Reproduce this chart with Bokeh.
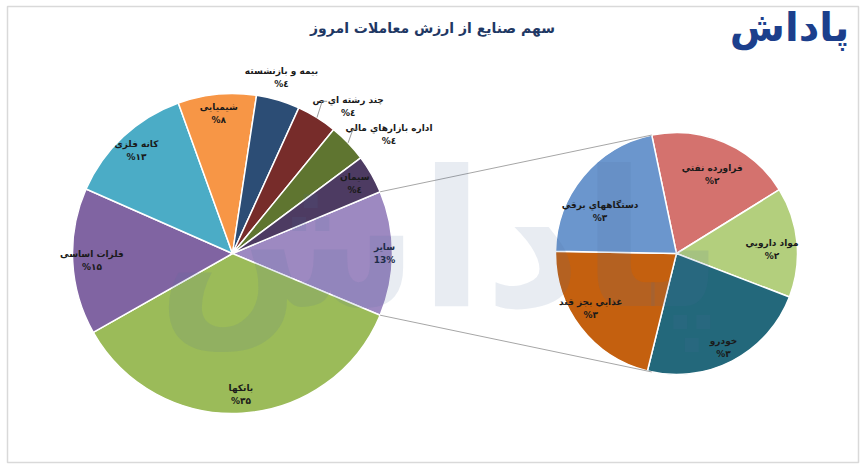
import math
from bokeh.plotting import figure
from bokeh.models import Range1d, ColumnDataSource
from bokeh.core.properties import value
from bokeh.embed import file_html
from bokeh.resources import INLINE

# ---------------- data ----------------
title = "سهم صنایع از ارزش معاملات امروز"
brand = "پاداش"

main_names = ["سایر", "بانکها", "فلزات اساسی", "کانه فلزی", "شیمیایی",
              "بیمه و بازنشسته", "چند رشته اي ص", "اداره بازارهاي مالي", "سیمان"]
main_values = [12.6, 35.5, 14.8, 12.9, 7.9, 4.4, 4.1, 3.9, 3.9]
main_labels = ["13%", "%۳۵", "%۱۵", "%۱۳", "%۸", "%٤", "%٤", "%٤", "%٤"]
main_colors = ["#9d89c1", "#9bbb59", "#8064a2", "#4bacc6", "#f79646",
               "#2c4d75", "#772c2a", "#5f7530", "#4d3b62"]

sub_names = ["فراورده نفتي", "مواد دارويي", "خودرو", "غذايي بجز قند", "دستگاههاي برقي"]
sub_values = [2.45, 1.85, 2.9, 2.7, 2.7]
sub_labels = ["%۲", "%۲", "%۳", "%۳", "%۳"]
sub_colors = ["#d4726e", "#b3cf7d", "#23687b", "#c4600f", "#6b96cd"]

# ---------------- layout ----------------
W, H = 864, 470
FONT = value("DejaVu Sans")


def Y(ypx):
    return H - ypx


LC = (232, Y(253))
LR = 160
RC = (676, Y(253))
RR = 121

p = figure(width=W, height=H, x_range=Range1d(0, W), y_range=Range1d(0, H),
           output_backend="svg", toolbar_location=None, min_border=0,
           x_axis_location=None, y_axis_location=None)
p.grid.visible = False
p.outline_line_color = None
p.background_fill_color = "white"
p.border_fill_color = "white"

# frame
p.quad(left=[7], right=[858], bottom=[Y(462)], top=[Y(6)], fill_color=None,
       line_color="#d9d9d9", line_width=1.5)


def spans(values, start_deg):
    tot = sum(values)
    s, e = [], []
    a = start_deg
    for v in values:
        sp = v / tot * 360.0
        s.append(a - sp)
        e.append(a)
        a -= sp
    return s, e


# main pie (clockwise, "other" slice centred on the right)
other_half = main_values[0] / sum(main_values) * 360.0 / 2
ms, me = spans(main_values, other_half)
src_m = ColumnDataSource(dict(start=[math.radians(a) for a in ms],
                              end=[math.radians(a) for a in me],
                              color=main_colors))
p.wedge(x=LC[0], y=LC[1], radius=LR, start_angle="start", end_angle="end",
        direction="anticlock", fill_color="color", line_color="white",
        line_width=1.5, source=src_m)

# connector points
up_pt = (LC[0] + LR * math.cos(math.radians(other_half)),
         LC[1] + LR * math.sin(math.radians(other_half)))
lo_pt = (LC[0] + LR * math.cos(math.radians(-other_half)),
         LC[1] + LR * math.sin(math.radians(-other_half)))


def tangent(pt, sign):
    dx, dy = pt[0] - RC[0], pt[1] - RC[1]
    d = math.hypot(dx, dy)
    th = math.atan2(dy, dx) + sign * math.acos(RR / d)
    return th, (RC[0] + RR * math.cos(th), RC[1] + RR * math.sin(th))


th_up, t_up = tangent(up_pt, -1)
th_lo, t_lo = tangent(lo_pt, +1)

# secondary pie
ss, se = spans(sub_values, math.degrees(th_up))
src_s = ColumnDataSource(dict(start=[math.radians(a) for a in ss],
                              end=[math.radians(a) for a in se],
                              color=sub_colors))
p.wedge(x=RC[0], y=RC[1], radius=RR, start_angle="start", end_angle="end",
        direction="anticlock", fill_color="color", line_color="white",
        line_width=1.5, source=src_s)

p.segment(x0=[up_pt[0], lo_pt[0]], y0=[up_pt[1], lo_pt[1]],
          x1=[t_up[0], t_lo[0]], y1=[t_up[1], t_lo[1]],
          line_color="#a6a6a6", line_width=1)

# watermark
p.text(x=[440], y=[Y(240)], text=[brand], text_align="center",
       text_baseline="middle", text_font=FONT, text_font_style="bold",
       text_font_size="190px", text_color="#4a6a9a", text_alpha=0.13)

# labels
def put_label(x, y, name, lab, color="#1a1a1a"):
    p.text(x=[x, x], y=[y + 6.5, y - 6.5], text=[name, lab], text_align="center",
           text_baseline="middle", text_font=FONT, text_font_style="bold",
           text_font_size="9px", text_color=color)


outside = {5: (1.14, 1.0, 0), 6: (1.17, -6.3, 19), 7: (1.23, -6.4, 29)}
for i, (a0, a1) in enumerate(zip(ms, me)):
    mid = (a0 + a1) / 2
    if i in outside:
        f, dang, halfw = outside[i]
        ang = math.radians(mid + dang)
        lx = LC[0] + f * LR * math.cos(ang)
        ly = LC[1] + f * LR * math.sin(ang)
        put_label(lx, ly, main_names[i], main_labels[i])
        if halfw:
            ex = LC[0] + LR * math.cos(math.radians(mid))
            ey = LC[1] + LR * math.sin(math.radians(mid))
            endx, endy = lx - halfw - 2, ly + 5
            p.line(x=[ex, endx - 5, endx], y=[ey, endy, endy],
                   line_color="#808080", line_width=0.8)
    else:
        f = 0.95 if i == 0 else 0.88
        ang = math.radians(mid)
        lx = LC[0] + f * LR * math.cos(ang)
        ly = LC[1] + f * LR * math.sin(ang)
        put_label(lx, ly, main_names[i], main_labels[i],
                  "#1f2d4a" if i == 0 else "#1a1a1a")

# per-slice label placement in the secondary pie (radius fraction, angle shift)
sub_place = [(0.72, -1), (0.79, -3), (0.87, -1), (0.84, -5), (0.72, 11)]
for i, (a0, a1) in enumerate(zip(ss, se)):
    f, dang = sub_place[i]
    mid = math.radians((a0 + a1) / 2 + dang)
    lx = RC[0] + f * RR * math.cos(mid)
    ly = RC[1] + f * RR * math.sin(mid)
    put_label(lx, ly, sub_names[i], sub_labels[i])

# title & logo
p.text(x=[432], y=[Y(27)], text=[title], text_align="center", text_baseline="middle",
       text_font=FONT, text_font_style="bold", text_font_size="14px",
       text_color="#1f3864")
p.text(x=[789], y=[Y(26)], text=[brand], text_align="center", text_baseline="middle",
       text_font=FONT, text_font_style="bold", text_font_size="40px",
       text_color="#1c3f8c")

open("out.html", "w").write(file_html(p, INLINE))
